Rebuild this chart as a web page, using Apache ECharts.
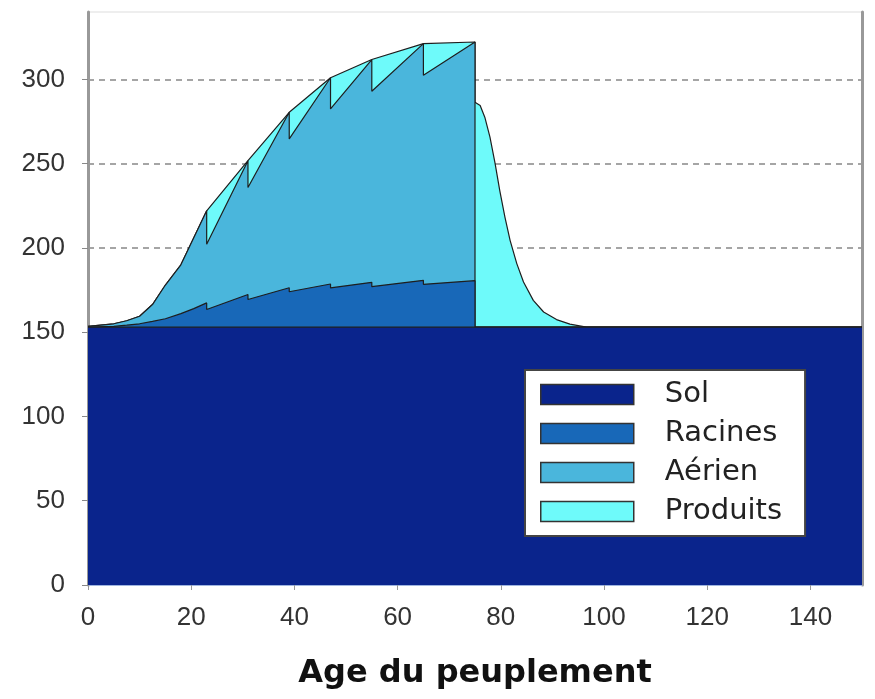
<!DOCTYPE html>
<html>
<head>
<meta charset="utf-8">
<script src="https://cdn.jsdelivr.net/npm/echarts@6/dist/echarts.min.js"></script>
<style>html,body{margin:0;padding:0;background:#fff}#c{width:875px;height:699px}</style>
</head>
<body>
<div id="c"></div>
<script>
// Age du peuplement (duplicate ages = vertical drops at thinnings / clearcut)
const ages = [0, 5, 7.5, 10, 12.5, 15, 18, 20.5, 23, 23, 31, 31, 39, 39, 47, 47, 55, 55, 65, 65, 75, 75, 76, 76.9, 77.9, 78.9, 79.8, 80.8, 81.8, 83.1, 84.4, 86.3, 88.3, 90.8, 93.4, 96.6, 150];
// Layer values (thickness of each stacked layer)
const sol      = [153, 153, 153, 153, 153, 153, 153, 153, 153, 153, 153, 153, 153, 153, 153, 153, 153, 153, 153, 153, 153, 153, 153, 153, 153, 153, 153, 153, 153, 153, 153, 153, 153, 153, 153, 153, 153];
const racines  = [0, 0.5, 1.2, 2, 3.4, 5, 8, 11, 14.4, 10.5, 19.4, 16.4, 23.4, 21, 25.6, 23.3, 26.6, 24, 27.8, 25.4, 27.6, 0, 0, 0, 0, 0, 0, 0, 0, 0, 0, 0, 0, 0, 0, 0, 0];
const aerien   = [0.5, 1.5, 2.6, 4.5, 10, 20, 29, 42, 54.6, 38.7, 79.4, 66.5, 104.1, 90.7, 122.4, 106.2, 132.2, 116, 140.4, 124, 141.6, 0, 0, 0, 0, 0, 0, 0, 0, 0, 0, 0, 0, 0, 0, 0, 0];
const produits = [0, 0, 0, 0, 0, 0, 0, 0, 0, 19.8, 0, 15.9, 0, 15.8, 0, 18.5, 0, 18.8, 0, 18.8, 0, 133.5, 131.5, 124.6, 112.7, 97, 81, 65.3, 51.5, 37.7, 26.8, 15.9, 9, 4.5, 1.8, 0, 0];

const seriesNames = ['Sol', 'Racines', 'Aérien', 'Produits'];
const xTicks = [0, 20, 40, 60, 80, 100, 120, 140];
const yTicks = [0, 50, 100, 150, 200, 250, 300];
const xTitle = 'Age du peuplement';

const colors = ['#0a248c', '#1868b8', '#4ab6dc', '#6efafa'];
const layers = [sol, racines, aerien, produits];

// cumulative tops
const cum = [];
let acc = ages.map(() => 0);
layers.forEach((layer) => {
  acc = acc.map((v, i) => v + layer[i]);
  cum.push(acc.map((v, i) => [ages[i], +v.toFixed(2)]));
});

const series = seriesNames.map((name, k) => ({
  name: name,
  type: 'line',
  data: cum[k],
  color: colors[k],
  showSymbol: false,
  symbol: 'none',
  z: 6 - k,
  lineStyle: { color: '#1e1e1e', width: 1.2 },
  areaStyle: { color: colors[k], opacity: 1, origin: 'start' },
  emphasis: { disabled: true },
  silent: true
}));

const chart = echarts.init(document.getElementById('c'), null, { renderer: 'canvas' });
chart.setOption({
  animation: false,
  backgroundColor: '#fff',
  grid: { left: 88, right: 13, top: 12, bottom: 114, show: true, borderColor: '#dddddd', borderWidth: 1, backgroundColor: 'transparent' },
  xAxis: {
    type: 'value', min: 0, max: 150, interval: 20,
    name: xTitle, nameLocation: 'middle', nameGap: 73,
    nameTextStyle: { fontFamily: 'DejaVu Sans', fontWeight: 'bold', fontSize: 32, color: '#111' },
    axisLine: { show: true, lineStyle: { color: '#9fb5e0', width: 1 } },
    axisTick: { show: true, length: 5, lineStyle: { color: '#999' }, customValues: xTicks },
    axisLabel: { fontFamily: 'Liberation Sans', fontSize: 26, color: '#333', margin: 20, customValues: xTicks },
    splitLine: { show: false }
  },
  yAxis: [{
    type: 'value', min: 0, max: 340, interval: 50,
    axisLine: { show: true, lineStyle: { color: '#999', width: 3 } },
    axisTick: { show: true, length: 6, lineStyle: { color: '#888', width: 1 }, customValues: yTicks },
    axisLabel: { fontFamily: 'Liberation Sans', fontSize: 26, color: '#333', margin: 23, customValues: yTicks },
    splitLine: { show: true, lineStyle: { color: '#888', width: 1.5, type: [6, 5] } }
  }, {
    type: 'value', min: 0, max: 340, position: 'right',
    axisLine: { show: true, lineStyle: { color: '#999', width: 3 } },
    axisTick: { show: false }, axisLabel: { show: false }, splitLine: { show: false }
  }],
  legend: {
    data: seriesNames,
    z: 20,
    orient: 'vertical', left: 525, top: 370,
    itemWidth: 93, itemHeight: 20, itemGap: 10,
    padding: [10, 23, 10, 15],
    backgroundColor: '#fff', borderColor: '#444', borderWidth: 2,
    icon: 'rect', selectedMode: false,
    itemStyle: { borderColor: '#333', borderWidth: 1.5 },
    textStyle: { fontFamily: 'DejaVu Sans', fontSize: 29, color: '#222', padding: [0, 0, 0, 26] }
  },
  series: series
});
</script>
</body>
</html>
